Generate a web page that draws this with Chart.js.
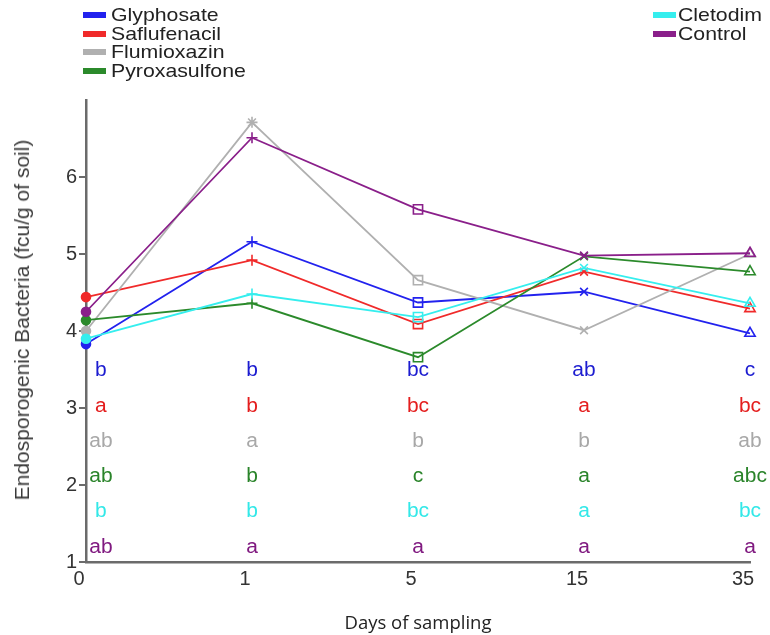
<!DOCTYPE html>
<html>
<head>
<meta charset="utf-8">
<script src="https://cdn.jsdelivr.net/npm/chart.js@4"></script>
<style>
  html, body { margin:0; padding:0; background:#fff; }
  #wrap { position:relative; width:770px; height:635px; overflow:hidden; }
  #c { position:absolute; left:0; top:0; }
  .leg { position:absolute; font-family:"Liberation Sans", Arial, sans-serif; font-size:19px; color:#222; line-height:18.7px; }
  .leg .it { position:relative; height:18.7px; white-space:nowrap; }
  .leg .sw { position:absolute; width:23px; height:6px; top:6px; left:0; }
  .leg .tx { position:absolute; top:0; transform:scaleX(1.12); transform-origin:left center; }
  #xt { position:absolute; left:0; width:836px; top:609px; text-align:center; font-family:"Open Sans", sans-serif; font-size:18.5px; color:#222; }
  #yt { position:absolute; left:22px; top:320px; transform:translate(-50%,-50%) rotate(-90deg); white-space:nowrap; font-family:"Liberation Sans", Arial, sans-serif; font-size:21px; color:#3a3a3a; }
</style>
</head>
<body>
<div id="wrap">
  <canvas id="c" width="770" height="635"></canvas>
  <div class="leg" id="legL" style="left:83px; top:6px;"></div>
  <div class="leg" id="legR" style="left:653px; top:6px;"></div>
  <div id="xt">Days of sampling</div>
  <div id="yt">Endosporogenic Bacteria (fcu/g of soil)</div>
</div>
<script>
// ---- data ----
const days = ['0', '1', '5', '15', '35'];
const seriesNames = ['Glyphosate', 'Saflufenacil', 'Flumioxazin', 'Pyroxasulfone', 'Cletodim', 'Control'];
const glyphosate    = [3.83, 5.16, 4.37, 4.51, 3.97];
const saflufenacil  = [4.44, 4.92, 4.09, 4.77, 4.29];
const flumioxazin   = [4.00, 6.71, 4.66, 4.01, 5.00];
const pyroxasulfone = [4.14, 4.36, 3.66, 4.97, 4.77];
const cletodim      = [3.90, 4.48, 4.18, 4.82, 4.36];
const control       = [4.25, 6.51, 5.58, 4.98, 5.01];
const lettersGlyphosate    = ['b', 'b', 'bc', 'ab', 'c'];
const lettersSaflufenacil  = ['a', 'b', 'bc', 'a', 'bc'];
const lettersFlumioxazin   = ['ab', 'a', 'b', 'b', 'ab'];
const lettersPyroxasulfone = ['ab', 'b', 'c', 'a', 'abc'];
const lettersCletodim      = ['b', 'b', 'bc', 'a', 'bc'];
const lettersControl       = ['ab', 'a', 'a', 'a', 'a'];
const yTicks = [1, 2, 3, 4, 5, 6];

// ---- styling ----
const colors = ['#2222ee', '#f02a2a', '#b0b0b0', '#2b8a2b', '#35eeee', '#8a1f8a'];
const letterColors = ['#1c1cd0', '#e41e1e', '#a8a8a8', '#2a842a', '#33e8e8', '#801a80'];
const letterRowLevels = [3.41, 2.95, 2.50, 2.04, 1.585, 1.12];
const letterColumnShift = [0.09, 0, 0, 0, 0];
const markers = ['circle', 'cross', 'rect', 'crossRot', 'triangle'];
const markerRadius = [4.5, 5.5, 6.5, 5.5, 6];

const values = [glyphosate, saflufenacil, flumioxazin, pyroxasulfone, cletodim, control];
const letters = [lettersGlyphosate, lettersSaflufenacil, lettersFlumioxazin, lettersPyroxasulfone, lettersCletodim, lettersControl];

// legend (HTML)
function legendItem(i, gap) {
  return '<div class="it"><span class="sw" style="background:' + colors[i] + '"></span><span class="tx" style="left:' + gap + 'px">' + seriesNames[i] + '</span></div>';
}
document.getElementById('legL').innerHTML = [0,1,2,3].map(i => legendItem(i, 28)).join('');
document.getElementById('legR').innerHTML = [4,5].map(i => legendItem(i, 25)).join('');

const datasets = seriesNames.map((name, i) => ({
  label: name,
  data: values[i],
  borderColor: colors[i],
  backgroundColor: colors[i],
  borderWidth: 1.8,
  tension: 0,
  clip: false,
  order: 5 - i,
  pointStyle: ctx => (i === 2 && ctx.dataIndex === 1) ? 'star' : markers[ctx.dataIndex],
  pointRadius: ctx => markerRadius[ctx.dataIndex],
  pointHoverRadius: ctx => markerRadius[ctx.dataIndex],
  pointBorderWidth: 1.6,
  pointBorderColor: colors[i],
  pointBackgroundColor: ctx => ctx.dataIndex === 0 ? colors[i] : 'rgba(255,255,255,0)'
}));

const lettersPlugin = {
  id: 'sigLetters',
  afterDatasetsDraw(chart) {
    const ctx = chart.ctx;
    const xs = chart.scales.x, ys = chart.scales.y;
    ctx.save();
    ctx.font = '20px "Liberation Sans", Arial, sans-serif';
    ctx.textAlign = 'center';
    ctx.textBaseline = 'alphabetic';
    letters.forEach((row, i) => {
      ctx.fillStyle = letterColors[i];
      row.forEach((txt, j) => {
        const x = xs.getPixelForValue(j + letterColumnShift[j]);
        const y = ys.getPixelForValue(letterRowLevels[i]);
        ctx.save();
        ctx.translate(x, y);
        ctx.scale(1.05, 1);
        ctx.fillText(txt, 0, 0);
        ctx.restore();
      });
    });
    ctx.restore();
  }
};

new Chart(document.getElementById('c'), {
  type: 'line',
  data: { labels: days, datasets },
  plugins: [lettersPlugin],
  options: {
    responsive: false,
    animation: false,
    devicePixelRatio: 1,
    layout: { padding: { left: 0, right: 20, top: 100, bottom: 0 } },
    plugins: { legend: { display: false }, tooltip: { enabled: false } },
    scales: {
      x: {
        type: 'category',
        offset: false,
        grid: { display: false, drawTicks: false },
        border: { display: true, color: '#6b6b6b', width: 2.5 },
        ticks: { color: '#333', font: { family: '"Liberation Sans", Arial, sans-serif', size: 20 }, padding: 5, labelOffset: -7, maxRotation: 0, autoSkip: false },
        afterFit(s) { s.height = 73; }
      },
      y: {
        type: 'linear',
        min: 1, max: 7,
        afterBuildTicks(s) { s.ticks = yTicks.map(v => ({ value: v })); },
        grid: { display: true, drawOnChartArea: false, drawTicks: true, tickLength: 7, color: '#6b6b6b', lineWidth: 2 },
        border: { display: true, color: '#6b6b6b', width: 2.5 },
        ticks: { color: '#333', font: { family: '"Liberation Sans", Arial, sans-serif', size: 20 }, padding: 2 },
        afterFit(s) { s.width = 86; }
      }
    }
  }
});
</script>
</body>
</html>
